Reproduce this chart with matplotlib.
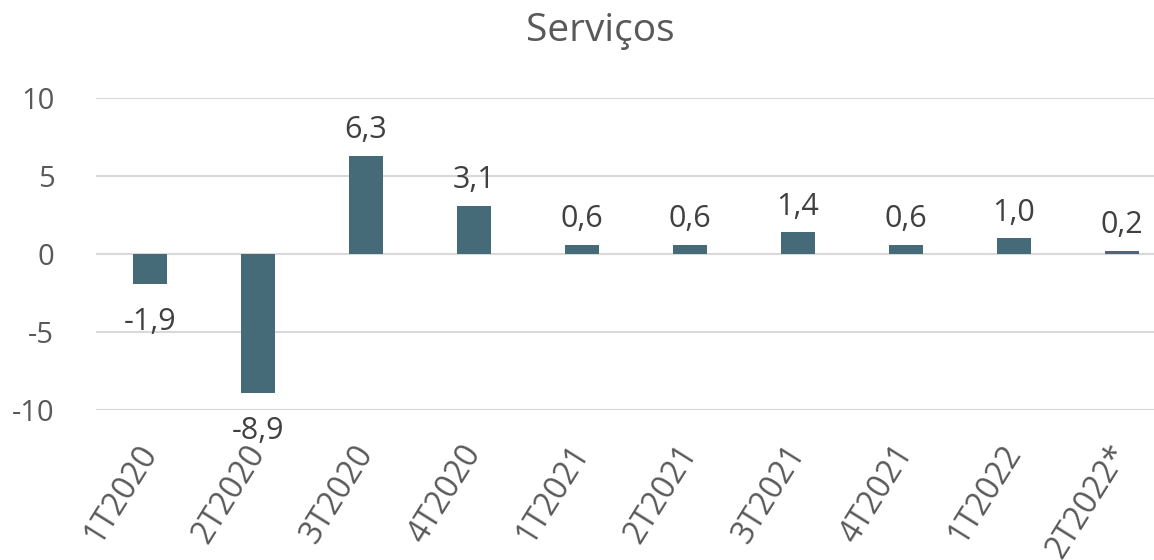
import matplotlib
matplotlib.use("Agg")
import matplotlib.pyplot as plt

categories = ["1T2020", "2T2020", "3T2020", "4T2020", "1T2021", "2T2021",
              "3T2021", "4T2021", "1T2022", "2T2022*"]
values = [-1.9, -8.9, 6.3, 3.1, 0.6, 0.6, 1.4, 0.6, 1.0, 0.2]
yticks = [-10, -5, 0, 5, 10]
title = "Serviços"

plt.rcParams['font.family'] = ['Open Sans', 'DejaVu Sans']

fig = plt.figure(figsize=(11.54, 5.6), dpi=100)
ax = fig.add_axes([96/1154, 150/560, 1080/1154, 312/560])

bar_color = "#466b78"
x = list(range(len(categories)))
ax.bar(x, values, width=0.31, color=bar_color, zorder=3)

ax.set_xlim(-0.5, len(categories) - 0.5)
ax.set_ylim(-10, 10)
ax.set_yticks(yticks)
ax.set_yticklabels([str(v) for v in yticks])
ax.grid(axis='y', color='#d9d9d9', linewidth=1.5, zorder=0)
for s in ax.spines.values():
    s.set_visible(False)
ax.tick_params(axis='both', length=0, colors='#595959')
ax.tick_params(axis='y', pad=30, labelsize=21)

ax.set_xticks(x)
ax.set_xticklabels(categories, rotation=58, ha='right', va='center',
                   rotation_mode='anchor', fontsize=23)
ax.tick_params(axis='x', pad=27)

for xi, v in zip(x, values):
    lab = f"{v:.1f}".replace('.', ',')
    if v >= 0:
        ax.annotate(lab, (xi, v), xytext=(0, 7.5), textcoords='offset points',
                    ha='center', va='bottom', fontsize=22, color='#404040')
    else:
        ax.annotate(lab, (xi, v), xytext=(0, -17), textcoords='offset points',
                    ha='center', va='top', fontsize=22, color='#404040')

fig.text(600/1154, 1 - 31/560, title, ha='center', va='center', fontsize=28,
         color='#595959')

fig.savefig("out.png", dpi=100)
